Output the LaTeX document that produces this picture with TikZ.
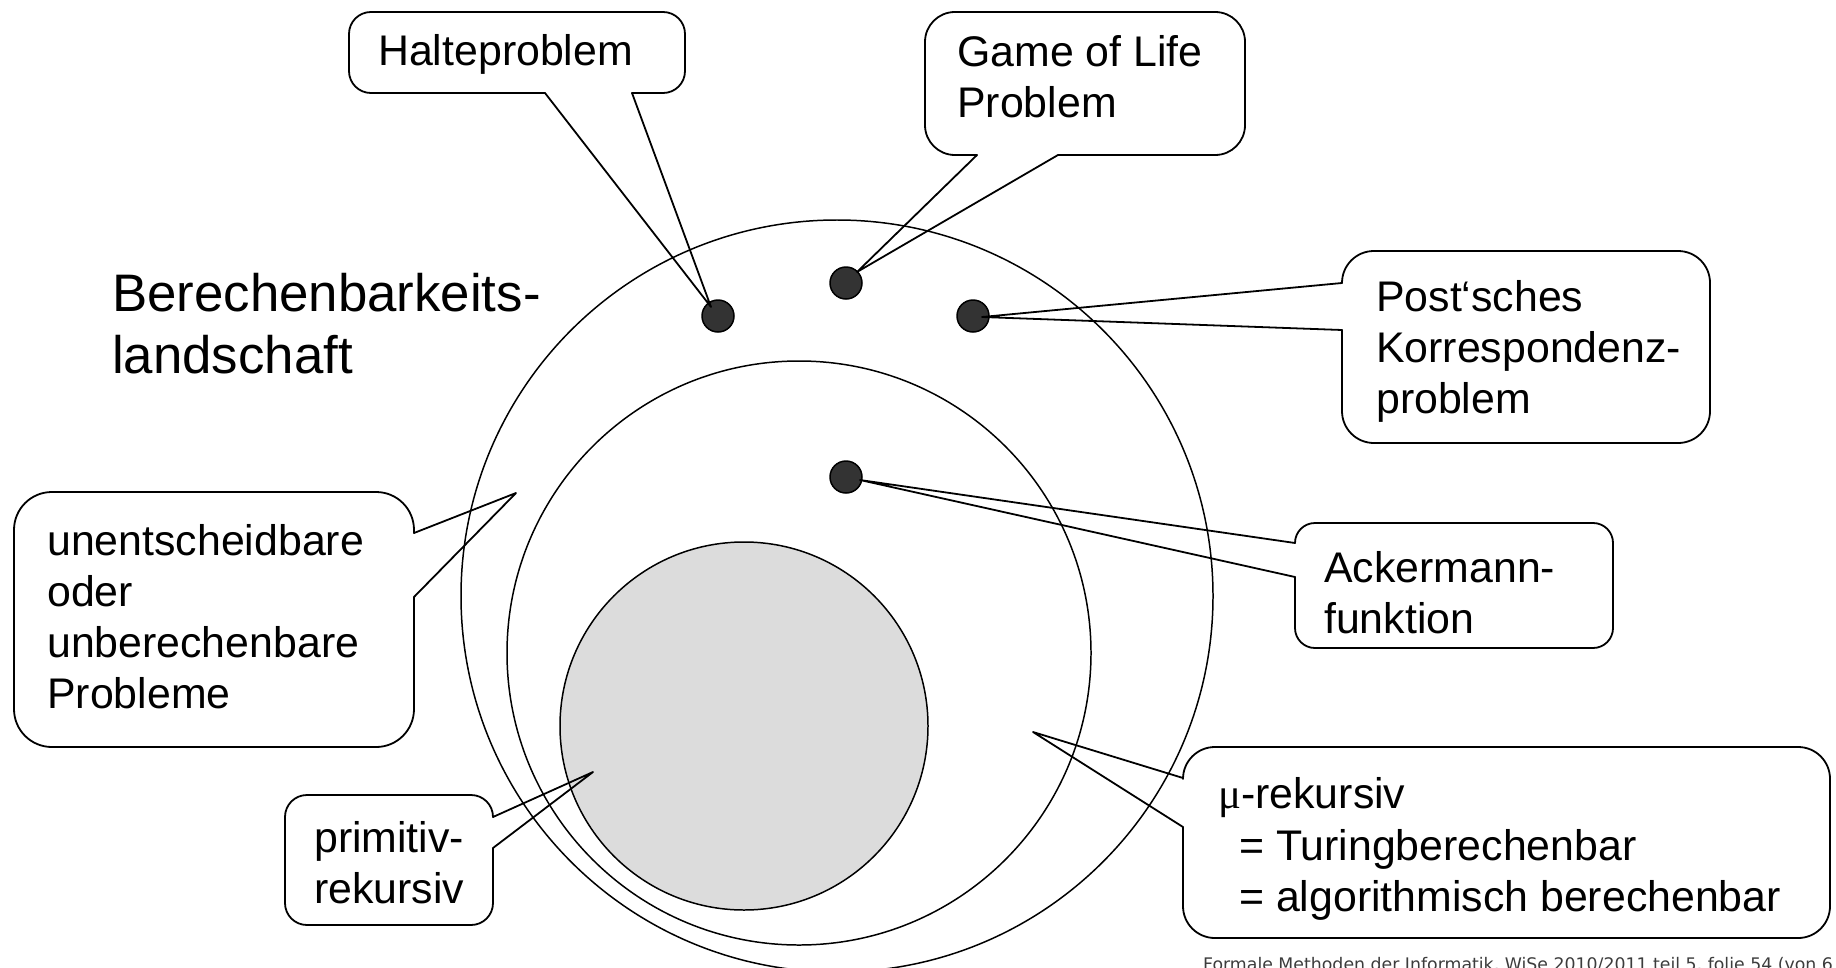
\documentclass[tikz,border=0pt]{standalone}
\usepackage{fontspec}
\setmainfont{Liberation Sans}
\newfontfamily\footfont{DejaVu Sans}
\newfontfamily\greekfont{Liberation Serif}
\newcommand\mylines[1]{\begin{tabular}[t]{@{}l@{}}#1\end{tabular}}
\definecolor{dotgray}{RGB}{51,51,51}
\definecolor{primgray}{RGB}{220,220,220}
\definecolor{footgray}{RGB}{60,60,60}
\begin{document}
\begin{tikzpicture}[x=1bp,y=-1bp,
  ring/.style={circle,draw=black,line width=1.5,inner sep=0,outer sep=0},
  dot/.style={circle,draw=black,fill=dotgray,line width=1.5,minimum size=32bp,inner sep=0},
  co/.style={draw=black,line width=1.8,line cap=round,line join=round},
  txt/.style={anchor=base west,inner sep=0,font=\fontsize{43}{51.5}\selectfont},
]
\useasboundingbox (0,0) rectangle (1836,967);

% sets
\node[ring,minimum size=752bp] (outer) at (837,596) {};
\node[ring,minimum size=584bp] (mid) at (799,653) {};
\node[ring,fill=primgray,minimum size=368bp] (prim) at (744,726) {};

% problems
\node[dot] (dH) at (718,316) {};
\node[dot] (dG) at (846,283) {};
\node[dot] (dP) at (973,316) {};
\node[dot] (dA) at (846,477) {};

% tail tips
\coordinate (tH) at (711,307);
\coordinate (tG) at (857,272);
\coordinate (tP) at (982,317);
\coordinate (tA) at (860,480);
\coordinate (tU) at (516,493);
\coordinate (tR) at (593,772);
\coordinate (tM) at (1033,732);

% Halteproblem
\draw[co,rounded corners=22] (632,93) -- (685,93) -- (685,12) -- (349,12) -- (349,93) -- (545,93);
\draw[co] (545,93) -- (tH) -- (632,93);
\node[txt] (lH) at (378,65) {Halteproblem};

% Game of Life
\draw[co,rounded corners=30] (1058,155) -- (1245,155) -- (1245,12) -- (925,12) -- (925,155) -- (977,155);
\draw[co] (977,155) -- (tG) -- (1058,155);
\node[txt] (lG) at (957,66) {\mylines{Game of Life\\Problem}};

% Post
\draw[co,rounded corners=32] (1342,330) -- (1342,443) -- (1710,443) -- (1710,251) -- (1342,251) -- (1342,283);
\draw[co] (1342,283) -- (tP) -- (1342,330);
\node[txt] (lP) at (1376,311) {\mylines{Post‘sches\\Korrespondenz-\\problem}};

% Ackermann
\draw[co,rounded corners=20] (1295,577) -- (1295,648) -- (1613,648) -- (1613,523) -- (1295,523) -- (1295,543);
\draw[co] (1295,543) -- (tA) -- (1295,577);
\node[txt] (lA) at (1324,582) {\mylines{Ackermann-\\funktion}};

% unentscheidbare
\draw[co,rounded corners=38] (414,533) -- (414,492) -- (14,492) -- (14,747) -- (414,747) -- (414,597);
\draw[co] (414,597) -- (tU) -- (414,533);
\node[txt] (lU) at (47,555) {\mylines{unentscheidbare\\oder\\unberechenbare\\Probleme}};

% primitiv-rekursiv
\draw[co,rounded corners=22] (493,817) -- (493,795) -- (285,795) -- (285,925) -- (493,925) -- (493,848);
\draw[co] (493,848) -- (tR) -- (493,817);
\node[txt] (lR) at (314,852) {\mylines{primitiv-\\rekursiv}};

% mu-rekursiv
\draw[co,rounded corners=32] (1183,827) -- (1183,938) -- (1830,938) -- (1830,747) -- (1183,747) -- (1183,778);
\draw[co] (1183,778) -- (tM) -- (1183,827);
\node[txt] (lM1) at (1218,808) {{\greekfont μ}-rekursiv};
\node[txt] (lM2) at (1239,860) {= Turingberechenbar};
\node[txt] (lM3) at (1239,911) {= algorithmisch berechenbar};

% title
\node[anchor=base west,inner sep=0,font=\fontsize{53}{63}\selectfont] (title) at (112,311) {\mylines{Berechenbarkeits-\\landschaft}};

% footer (cut off at the page edge, as in the original slide)
\node[anchor=base west,inner sep=0,text=footgray,font=\footfont\fontsize{17.4}{21}\selectfont] (foot) at (1203,970) {Formale Methoden der Informatik, WiSe 2010/2011 teil 5, folie 54 (von 6};
\end{tikzpicture}
\end{document}
